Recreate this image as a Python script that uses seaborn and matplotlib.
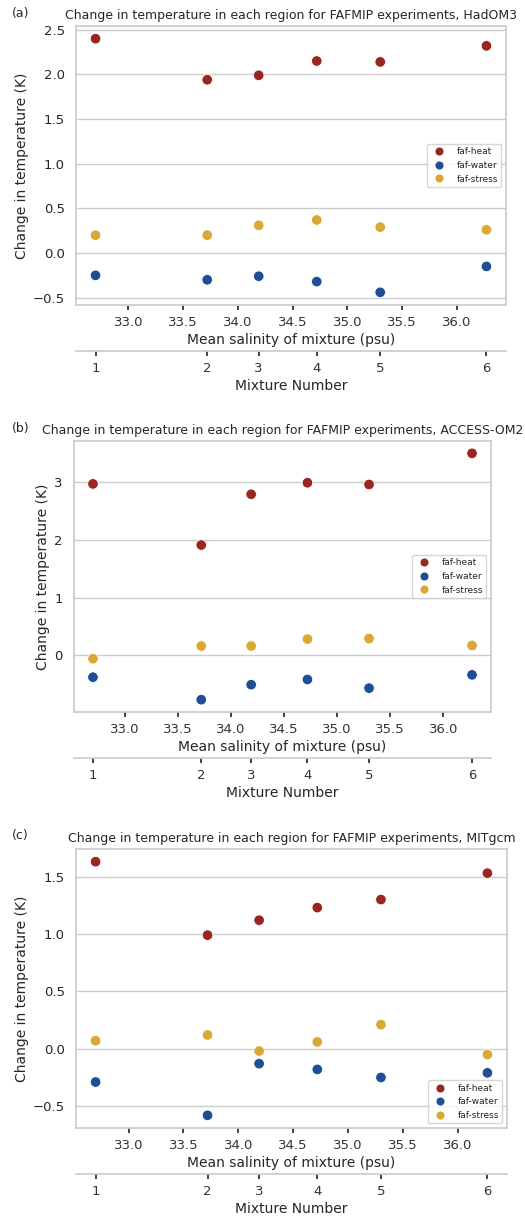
import numpy as np
import pandas as pd
import seaborn as sns
import matplotlib.pyplot as plt

# mean salinity of each mixture (psu), mixture numbers 1-6
salinity = [32.70, 33.72, 34.19, 34.72, 35.30, 36.27]
mixture = [1, 2, 3, 4, 5, 6]

experiments = ['faf-heat', 'faf-water', 'faf-stress']
colours = ['#9b2520', '#1f4e94', '#d9a835']

# change in temperature (K) per model
hadom3_heat = [2.40, 1.94, 1.99, 2.15, 2.14, 2.32]
hadom3_water = [-0.25, -0.30, -0.26, -0.32, -0.44, -0.15]
hadom3_stress = [0.20, 0.20, 0.31, 0.37, 0.29, 0.26]

access_heat = [2.97, 1.91, 2.79, 2.99, 2.96, 3.50]
access_water = [-0.38, -0.77, -0.51, -0.42, -0.57, -0.34]
access_stress = [-0.06, 0.16, 0.16, 0.28, 0.29, 0.17]

mitgcm_heat = [1.63, 0.99, 1.12, 1.23, 1.30, 1.53]
mitgcm_water = [-0.29, -0.58, -0.13, -0.18, -0.25, -0.21]
mitgcm_stress = [0.07, 0.12, -0.02, 0.06, 0.21, -0.05]

models = ['HadOM3', 'ACCESS-OM2', 'MITgcm']
panel_letters = ['(a)', '(b)', '(c)']
legend_locs = ['center right', 'center right', 'lower right']


def long_df(heat, water, stress):
    frames = []
    for name, vals in zip(experiments, [heat, water, stress]):
        frames.append(pd.DataFrame({'salinity': salinity, 'dT': vals,
                                    'experiment': name}))
    return pd.concat(frames, ignore_index=True)


data = [long_df(hadom3_heat, hadom3_water, hadom3_stress),
        long_df(access_heat, access_water, access_stress),
        long_df(mitgcm_heat, mitgcm_water, mitgcm_stress)]

sns.set_theme(style='whitegrid')
plt.rcParams['font.family'] = ['DejaVu Sans']
# x tick marks only, short and dark
plt.rcParams['xtick.bottom'] = True
plt.rcParams['xtick.major.size'] = 3.5
plt.rcParams['xtick.major.width'] = 1.3
plt.rcParams['xtick.color'] = '.2'
plt.rcParams['xtick.major.pad'] = 4.5

W, H = 525, 1222
fig = plt.figure(figsize=(W / 100, H / 100), dpi=100)

# axes boxes in pixels: left, top, right, bottom
boxes = [(76, 26, 506, 305), (74, 441, 491, 712), (76, 849, 507, 1128)]
title_y = [13, 428, 835]

for i, df in enumerate(data):
    l, t, r, b = boxes[i]
    ax = fig.add_axes([l / W, 1 - b / H, (r - l) / W, (b - t) / H])
    sns.scatterplot(data=df, x='salinity', y='dT', hue='experiment',
                    hue_order=experiments, palette=colours, s=58,
                    edgecolor='white', linewidth=0.6, ax=ax)
    ax.grid(axis='x', visible=False)
    ax.set_xticks([33.0, 33.5, 34.0, 34.5, 35.0, 35.5, 36.0])
    ax.tick_params(axis='x', labelsize=9.5)
    ax.tick_params(axis='y', labelsize=9.5, pad=2)
    ax.set_xlabel('Mean salinity of mixture (psu)', fontsize=10, labelpad=3)
    ax.set_ylabel('Change in temperature (K)', fontsize=10, labelpad=3)
    if i == 1:
        ax.set_yticks([0, 1, 2, 3])
    ax.set_title('Change in temperature in each region for FAFMIP experiments, '
                 + models[i], fontsize=9.0, pad=5)
    ax.legend(loc=legend_locs[i], fontsize=6.5, markerscale=0.85,
              frameon=True, borderpad=0.4, handletextpad=0.9)
    fig.text(12 / W, 1 - title_y[i] / H, panel_letters[i], fontsize=9,
             ha='left', va='center', color='.15')

    # secondary axis for mixture number
    ax2 = ax.twiny()
    ax2.set_xlim(ax.get_xlim())
    ax2.xaxis.set_ticks_position('bottom')
    ax2.xaxis.set_label_position('bottom')
    ax2.spines['bottom'].set_position(('outward', 33))
    for sp in ['top', 'left', 'right']:
        ax2.spines[sp].set_visible(False)
    ax2.grid(False)
    ax2.set_xticks(salinity)
    ax2.set_xticklabels([str(m) for m in mixture])
    ax2.tick_params(axis='x', labelsize=9.5)
    ax2.set_xlabel('Mixture Number', fontsize=10, labelpad=3)

fig.savefig('out.png', dpi=100)
